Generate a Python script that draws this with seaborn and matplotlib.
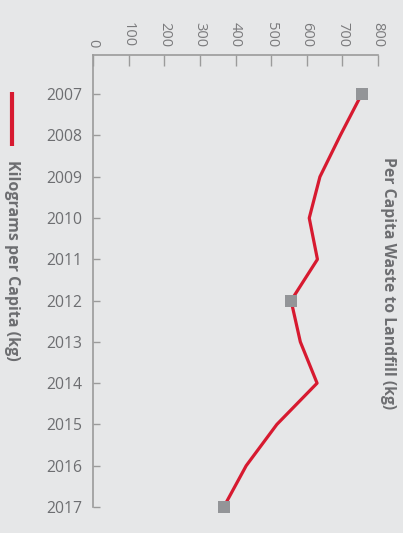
import matplotlib
matplotlib.use("Agg")
import matplotlib.pyplot as plt
import seaborn as sns
import pandas as pd

# Per capita waste sent to landfill, kilograms per person
years = [2007, 2008, 2009, 2010, 2011, 2012, 2013, 2014, 2015, 2016, 2017]
kg_per_capita = [754, 694, 637, 607, 630, 556, 582, 629, 516, 430, 367]
marker_years = [2007, 2012, 2017]
value_ticks = [0, 100, 200, 300, 400, 500, 600, 700, 800]

title = "Per Capita Waste to Landfill (kg)"
series_label = "Kilograms per Capita (kg)"

bg = "#e6e7e8"
red = "#d71a30"
grey_text = "#6d6e71"
axis_grey = "#9b9b9b"
marker_grey = "#939598"

sns.set_theme(style="white")
plt.rcParams["font.family"] = ["Open Sans", "DejaVu Sans"]

df = pd.DataFrame({"year": years, "kg": kg_per_capita})
marks = df[df["year"].isin(marker_years)]

fig = plt.figure(figsize=(4.03, 5.33), dpi=100, facecolor=bg)
ax = fig.add_axes([93 / 403, 1 - 507 / 533, (378 - 93) / 403, (507 - 55) / 533])
ax.set_facecolor(bg)

sns.lineplot(data=df, x="kg", y="year", orient="y", sort=False,
             color=red, linewidth=2.3, ax=ax, zorder=2)
sns.scatterplot(data=marks, x="kg", y="year", marker="s", s=75,
                color=marker_grey, edgecolor="none", ax=ax, zorder=3,
                clip_on=False)

ax.set_xlim(0, 800)
ax.set_ylim(2017, 2006.05)
ax.xaxis.tick_top()
ax.set_xticks(value_ticks)
ax.set_xticklabels([str(v) for v in value_ticks], rotation=-90,
                   fontsize=10.5, color="#7a7a7c")
ax.set_yticks(years)
ax.set_yticklabels([str(y) for y in years], fontsize=11.3, color=grey_text)
ax.tick_params(axis="x", direction="in", length=8, width=1, color=axis_grey,
               pad=5.5, top=True, bottom=False)
ax.tick_params(axis="y", direction="in", length=5, width=1, color=axis_grey,
               pad=7.5, left=True)
ax.set_xlabel("")
ax.set_ylabel("")
for side in ("right", "bottom"):
    ax.spines[side].set_visible(False)
for side in ("top", "left"):
    ax.spines[side].set_color(axis_grey)
    ax.spines[side].set_linewidth(1.2)

# Title, reading top to bottom on the right edge
fig.text(388 / 403, 1 - 283 / 533, title, rotation=-90, ha="center",
         va="center", fontsize=11.3, fontweight="bold", color=grey_text)

# Series key on the left edge
fig.add_artist(plt.Line2D([12 / 403, 12 / 403], [1 - 92 / 533, 1 - 146 / 533],
                          color=red, linewidth=3, solid_capstyle="butt",
                          transform=fig.transFigure))
fig.text(12 / 403, 1 - 260 / 533, series_label, rotation=-90, ha="center",
         va="center", fontsize=11.5, fontweight="bold", color=grey_text)

fig.savefig("out.png", dpi=100, facecolor=bg)
